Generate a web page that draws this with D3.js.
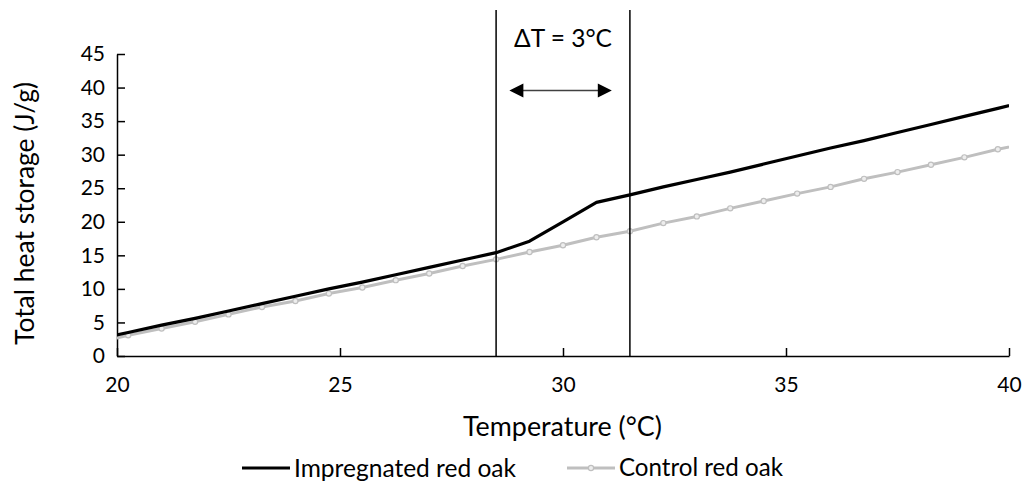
<!DOCTYPE html>
<html><head><meta charset="utf-8">
<script src="https://cdn.jsdelivr.net/npm/d3@7"></script>
<style>
body{margin:0;background:#fff}
svg text{font-family:Lato,"Open Sans",sans-serif;fill:#000}
</style>
</head><body>
<svg id="chart" width="1025" height="484"></svg>
<script>
// ---- data ----
const temperature = [19.5,20.25,21,21.75,22.5,23.25,24,24.75,25.5,26.25,27,27.75,28.5,29.25,30,30.75,31.5,32.25,33,33.75,34.5,35.25,36,36.75,37.5,38.25,39,39.75,40.5];
const impregnated = [2.4,3.5,4.6,5.6,6.7,7.8,8.9,10.0,11.0,12.1,13.2,14.3,15.4,17.1,20.0,22.9,24.0,25.2,26.3,27.4,28.6,29.8,31.0,32.1,33.3,34.5,35.7,36.9,38.1];
const control = [1.9,3.1,4.1,5.1,6.2,7.3,8.2,9.3,10.2,11.3,12.3,13.4,14.4,15.5,16.5,17.7,18.6,19.8,20.8,22.0,23.1,24.2,25.2,26.4,27.4,28.5,29.6,30.8,31.8];
const xTicks = [20,25,30,35,40];
const yTicks = [0,5,10,15,20,25,30,35,40,45];
const deltaLines = [28.5,31.5];
const seriesNames = ["Impregnated red oak","Control red oak"];
const xTitle = "Temperature (°C)";
const yTitle = "Total heat storage (J/g)";
const deltaLabel = "ΔT = 3°C";

// ---- layout ----
const svg = d3.select("#chart");
const L = 117, R = 1009, T = 54, B = 356;
const x = d3.scaleLinear().domain([20,40]).range([L,R]);
const y = d3.scaleLinear().domain([0,45]).range([B,T]);

function fit(sel, target){
  const w = sel.node().getComputedTextLength();
  const fs = parseFloat(sel.attr("font-size"));
  sel.attr("font-size", (fs*target/w).toFixed(2));
  return sel;
}

svg.append("defs").append("clipPath").attr("id","clip")
  .append("rect").attr("x",L).attr("y",0).attr("width",R-L).attr("height",B);

// axes
const xAxis = d3.axisBottom(x).tickValues(xTicks).tickSizeInner(-8).tickSizeOuter(0).tickPadding(20);
const gx = svg.append("g").attr("transform",`translate(0,${B})`).call(xAxis);
const yAxis = d3.axisLeft(y).tickValues(yTicks).tickSizeInner(-8).tickSizeOuter(0).tickPadding(20);
const gy = svg.append("g").attr("transform",`translate(${L},0)`).call(yAxis);
[gx,gy].forEach(g=>{
  g.attr("font-family",null).attr("font-size",null);
  g.select(".domain").attr("stroke","#000").attr("stroke-width",1.5);
  g.selectAll(".tick line").attr("stroke","#000").attr("stroke-width",1.5);
  g.selectAll(".tick text").attr("font-size",21).attr("fill","#000");
});
gx.selectAll(".tick text").attr("dy","0.71em").attr("y",21);
gy.selectAll(".tick text").attr("x",-12);

// series
const ptsI = temperature.map((t,i)=>[t,impregnated[i]]);
const ptsC = temperature.map((t,i)=>[t,control[i]]);
const line = d3.line().x(d=>x(d[0])).y(d=>y(d[1]));
const plot = svg.append("g").attr("clip-path","url(#clip)");
plot.append("path").datum(ptsC).attr("d",line).attr("fill","none")
  .attr("stroke","#bfbfbf").attr("stroke-width",3).attr("stroke-linejoin","round");
plot.selectAll("circle.c").data(ptsC).join("circle").attr("class","c")
  .attr("cx",d=>x(d[0])).attr("cy",d=>y(d[1])).attr("r",2.6)
  .attr("fill","#ededed").attr("stroke","#bfbfbf").attr("stroke-width",1.2);
plot.append("path").datum(ptsI).attr("d",line).attr("fill","none")
  .attr("stroke","#000").attr("stroke-width",3.2).attr("stroke-linejoin","round");

// vertical delta lines
svg.selectAll("line.dv").data(deltaLines).join("line").attr("class","dv")
  .attr("x1",d=>x(d)).attr("x2",d=>x(d)).attr("y1",10).attr("y2",B)
  .attr("stroke","#000").attr("stroke-width",1.5);

// arrow
const ax1 = x(29.0)-9, ax2 = x(31.05)+2, ay = 90.5;
svg.append("line").attr("x1",ax1+12).attr("x2",ax2-12).attr("y1",ay).attr("y2",ay)
  .attr("stroke","#404040").attr("stroke-width",1.3);
svg.append("path").attr("d",`M${ax1},${ay} L${ax1+14},${ay-7} L${ax1+14},${ay+7} Z`).attr("fill","#000");
svg.append("path").attr("d",`M${ax2},${ay} L${ax2-14},${ay-7} L${ax2-14},${ay+7} Z`).attr("fill","#000");

// delta label
fit(svg.append("text").attr("x",563).attr("y",38).attr("dy","0.35em").attr("text-anchor","middle")
  .attr("font-size",21).text(deltaLabel), 98);

// axis titles
fit(svg.append("text").attr("x",562.5).attr("y",427).attr("dy","0.35em").attr("text-anchor","middle")
  .attr("font-size",21).text(xTitle), 199);
fit(svg.append("text").attr("transform","translate(25,213.5) rotate(-90)").attr("dy","0.35em")
  .attr("text-anchor","middle").attr("font-size",21).text(yTitle), 263);

// legend
const lg = svg.append("g");
lg.append("line").attr("x1",242).attr("x2",290).attr("y1",468).attr("y2",468).attr("stroke","#000").attr("stroke-width",3);
fit(lg.append("text").attr("x",294).attr("y",468).attr("dy","0.35em").attr("font-size",20).text(seriesNames[0]),222);
lg.append("line").attr("x1",567).attr("x2",615).attr("y1",468).attr("y2",468).attr("stroke","#bfbfbf").attr("stroke-width",3);
lg.append("circle").attr("cx",591).attr("cy",468).attr("r",2.6).attr("fill","#ededed").attr("stroke","#bfbfbf").attr("stroke-width",1.2);
fit(lg.append("text").attr("x",619).attr("y",468).attr("dy","0.35em").attr("font-size",20).text(seriesNames[1]),164);
</script>
</body></html>
